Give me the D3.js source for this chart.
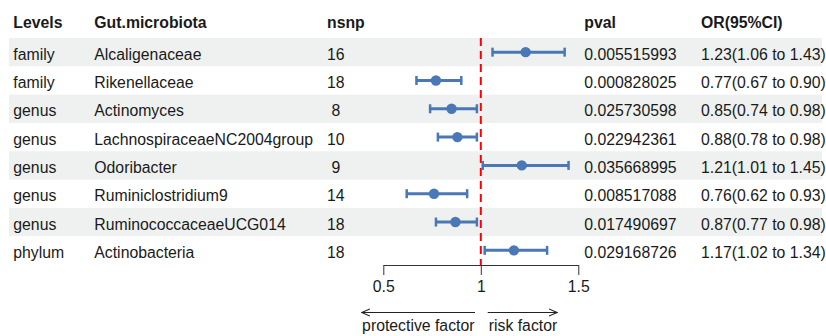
<!DOCTYPE html>
<html>
<head>
<meta charset="utf-8">
<script src="https://cdn.jsdelivr.net/npm/d3@7"></script>
<style>
html,body{margin:0;padding:0;background:#fff;}
svg{display:block;font-family:"Liberation Sans",Arial,sans-serif;}
</style>
</head>
<body>
<svg id="chart" width="826" height="336"></svg>
<script>
const levels = ["family","family","genus","genus","genus","genus","genus","phylum"];
const taxa = ["Alcaligenaceae","Rikenellaceae","Actinomyces","LachnospiraceaeNC2004group","Odoribacter","Ruminiclostridium9","RuminococcaceaeUCG014","Actinobacteria"];
const nsnp = [16,18,8,10,9,14,18,18];
const pval = ["0.005515993","0.000828025","0.025730598","0.022942361","0.035668995","0.008517088","0.017490697","0.029168726"];
const orVal = [1.23,0.77,0.85,0.88,1.21,0.76,0.87,1.17];
const orLow = [1.06,0.67,0.74,0.78,1.01,0.62,0.77,1.02];
const orHigh = [1.43,0.90,0.98,0.98,1.45,0.93,0.98,1.34];
const headers = ["Levels","Gut.microbiota","nsnp","pval","OR(95%CI)"];
const tickVals = [0.5,1,1.5];
const arrowLabels = ["protective factor","risk factor"];

const svg = d3.select("#chart");
const fs = 15.8;
const txtColor = "#1a1a1a";
const blue = "#4A77B5";
const n = taxa.length;

const x = d3.scaleLinear().domain([0.5,1.5]).range([383.3,578.3]);
const y = d3.scaleBand().domain(d3.range(n)).range([38,264.5]);

// bands
svg.append("g").selectAll("rect").data(d3.range(n).filter(i=>i%2===0)).join("rect")
  .attr("x",9).attr("width",813)
  .attr("y",i=>y(i)).attr("height",y.bandwidth())
  .attr("fill","#EEF1F0");

// headers
const colX = [13.3,94.3,327,584.3,701];
svg.append("g").selectAll("text").data(headers).join("text")
  .attr("x",(d,i)=>colX[i]).attr("y",28)
  .attr("font-size",fs).attr("font-weight","bold").attr("fill",txtColor)
  .text(d=>d);

const fmt = d3.format(".2f");
const rows = svg.append("g").selectAll("g").data(d3.range(n)).join("g")
  .attr("transform",i=>`translate(0,${y(i)+y.bandwidth()/2+7.5})`)
  .attr("font-size",fs).attr("fill",txtColor);
rows.append("text").attr("x",colX[0]).text(i=>levels[i]);
rows.append("text").attr("x",colX[1]).text(i=>taxa[i]);
rows.append("text").attr("x",335.8).attr("text-anchor","middle").text(i=>nsnp[i]);
rows.append("text").attr("x",colX[3]).text(i=>pval[i]);
rows.append("text").attr("x",colX[4]).text(i=>`${fmt(orVal[i])}(${fmt(orLow[i])} to ${fmt(orHigh[i])})`);

// reference line
svg.append("line").attr("x1",x(1)).attr("x2",x(1))
  .attr("y1",38).attr("y2",265)
  .attr("stroke","#FF0000").attr("stroke-width",2).attr("stroke-dasharray","8,5");

// CIs
const ci = svg.append("g").selectAll("g").data(d3.range(n)).join("g")
  .attr("transform",i=>`translate(0,${y(i)+y.bandwidth()/2})`);
ci.append("line").attr("x1",i=>x(orLow[i])).attr("x2",i=>x(orHigh[i]))
  .attr("stroke",blue).attr("stroke-width",3);
ci.append("line").attr("x1",i=>x(orLow[i])).attr("x2",i=>x(orLow[i]))
  .attr("y1",-4.5).attr("y2",4.5).attr("stroke",blue).attr("stroke-width",2.5);
ci.append("line").attr("x1",i=>x(orHigh[i])).attr("x2",i=>x(orHigh[i]))
  .attr("y1",-4.5).attr("y2",4.5).attr("stroke",blue).attr("stroke-width",2.5);
ci.append("circle").attr("cx",i=>x(orVal[i])).attr("r",5.2).attr("fill",blue);

// axis
const ax = svg.append("g").attr("transform","translate(0,265)")
  .call(d3.axisBottom(x).tickValues(tickVals).tickFormat(d=>String(d)).tickSize(10).tickSizeOuter(0).tickPadding(6));
ax.select(".domain").attr("stroke","#333");
ax.selectAll(".tick line").attr("stroke","#333");
ax.selectAll(".tick text").attr("font-size",fs).attr("fill",txtColor)
  .attr("font-family","Liberation Sans, Arial, sans-serif");

// arrows
const defs = svg.append("defs");
defs.append("marker").attr("id","arr").attr("viewBox","0 0 10 10")
  .attr("refX",9).attr("refY",5).attr("markerWidth",9).attr("markerHeight",9)
  .attr("markerUnits","userSpaceOnUse").attr("orient","auto")
  .append("path").attr("d","M0,1 L9,5 L0,9").attr("fill","none").attr("stroke","#222").attr("stroke-width",1.2);
const arrows = [{x1:475,x2:361.7},{x1:487.7,x2:557}];
svg.append("g").selectAll("line").data(arrows).join("line")
  .attr("x1",d=>d.x1).attr("x2",d=>d.x2).attr("y1",312.5).attr("y2",312.5)
  .attr("stroke","#222").attr("stroke-width",1.2).attr("marker-end","url(#arr)");
svg.append("g").selectAll("text").data(arrowLabels).join("text")
  .attr("x",(d,i)=>i===0?418.3:523).attr("y",331).attr("text-anchor","middle")
  .attr("font-size",fs).attr("fill",txtColor).text(d=>d);
</script>
</body>
</html>
